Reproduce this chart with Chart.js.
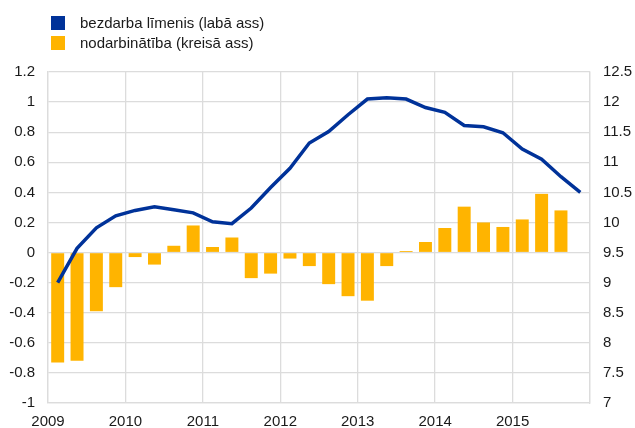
<!DOCTYPE html>
<html>
<head>
<meta charset="utf-8">
<script src="https://cdn.jsdelivr.net/npm/chart.js@4/dist/chart.umd.min.js"></script>
<style>
  html, body { margin: 0; padding: 0; background: #fff; }
  #wrap { position: relative; width: 635px; height: 428px; }
  #legend { position: absolute; left: 51px; top: 13px; font: 15px "Liberation Sans", Arial, sans-serif; color: #1a1a1a; }
  .item { height: 20px; line-height: 20px; position: relative; padding-left: 29px; }
  .box { position: absolute; left: 0; top: 3px; width: 14px; height: 14px; }
</style>
</head>
<body>
<div id="wrap">
  <canvas id="c" width="635" height="428"></canvas>
  <div id="legend">
    <div class="item"><span class="box" style="background:#003299"></span>bezdarba līmenis (labā ass)</div>
    <div class="item"><span class="box" style="background:#ffb400"></span>nodarbinātība (kreisā ass)</div>
  </div>
</div>
<script>
// ceturkšņi 2009 Q1 - 2015 Q4
const quarters = [];
for (let y = 2009; y <= 2015; y++) {
  for (let q = 1; q <= 4; q++) quarters.push(y + ' Q' + q);
}

// nodarbinātība, pārmaiņas (kreisā ass)
const employment = [
  -0.73, -0.72, -0.39, -0.23,
  -0.03, -0.08, 0.045, 0.18,
  0.037, 0.10, -0.17, -0.14,
  -0.04, -0.09, -0.21, -0.29,
  -0.32, -0.09, 0.01, 0.07,
  0.163, 0.305, 0.20, 0.17,
  0.22, 0.39, 0.28, null
];

// bezdarba līmenis, % (labā ass)
const unemployment = [
  9.0, 9.57, 9.91, 10.11,
  10.2, 10.26, 10.21, 10.16,
  10.01, 9.98, 10.24, 10.58,
  10.9, 11.32, 11.51, 11.79,
  12.05, 12.07, 12.05, 11.91,
  11.83, 11.61, 11.59, 11.49,
  11.22, 11.05, 10.76, 10.5
];

const yearTicks = [2009, 2010, 2011, 2012, 2013, 2014, 2015];

const font = { family: '"Liberation Sans", Arial, sans-serif', size: 15 };
const textColor = '#1a1a1a';
const gridColor = '#dcdcdc';

new Chart(document.getElementById('c'), {
  data: {
    labels: quarters,
    datasets: [
      {
        type: 'line',
        label: 'bezdarba līmenis (labā ass)',
        data: unemployment,
        yAxisID: 'y2',
        xAxisID: 'x',
        borderColor: '#003299',
        borderWidth: 3.5,
        pointRadius: 0,
        tension: 0,
        order: 0
      },
      {
        type: 'bar',
        label: 'nodarbinātība (kreisā ass)',
        data: employment,
        yAxisID: 'y',
        xAxisID: 'x',
        backgroundColor: '#ffb400',
        barPercentage: 0.67,
        categoryPercentage: 1,
        order: 1
      }
    ]
  },
  options: {
    responsive: false,
    animation: false,
    layout: { padding: { top: 72, left: 0, right: 0, bottom: 0 } },
    plugins: { legend: { display: false }, tooltip: { enabled: false } },
    scales: {
      x: {
        type: 'category',
        display: false,
        offset: true
      },
      years: {
        type: 'linear',
        position: 'bottom',
        min: 2009,
        max: 2016,
        afterBuildTicks: (s) => { s.ticks = yearTicks.concat([2016]).map(v => ({ value: v })); },
        afterFit: (s) => { s.height = 25; },
        grid: { color: gridColor, lineWidth: 1.3, drawTicks: false },
        border: { color: gridColor, width: 1.3 },
        ticks: {
          font: font,
          color: textColor,
          padding: 10,
          maxRotation: 0,
          autoSkip: false,
          callback: (v) => (yearTicks.includes(v) ? String(v) : '')
        }
      },
      y: {
        position: 'left',
        min: -1,
        max: 1.2,
        afterBuildTicks: (s) => {
          const t = [];
          for (let i = 0; i <= 11; i++) t.push({ value: Math.round((-1 + i * 0.2) * 10) / 10 });
          s.ticks = t;
        },
        afterFit: (s) => { s.width = 48; },
        grid: { color: gridColor, lineWidth: 1.3, drawTicks: false },
        border: { color: gridColor, width: 1.3 },
        ticks: {
          font: font,
          color: textColor,
          padding: 13,
          callback: (v) => String(Math.round(v * 10) / 10)
        }
      },
      y2: {
        position: 'right',
        min: 7,
        max: 12.5,
        afterBuildTicks: (s) => {
          const t = [];
          for (let i = 0; i <= 11; i++) t.push({ value: 7 + i * 0.5 });
          s.ticks = t;
        },
        afterFit: (s) => { s.width = 45; },
        grid: { display: false, drawTicks: false },
        border: { color: gridColor, width: 1.3 },
        ticks: {
          font: font,
          color: textColor,
          padding: 13,
          callback: (v) => String(v)
        }
      }
    }
  }
});
</script>
</body>
</html>
